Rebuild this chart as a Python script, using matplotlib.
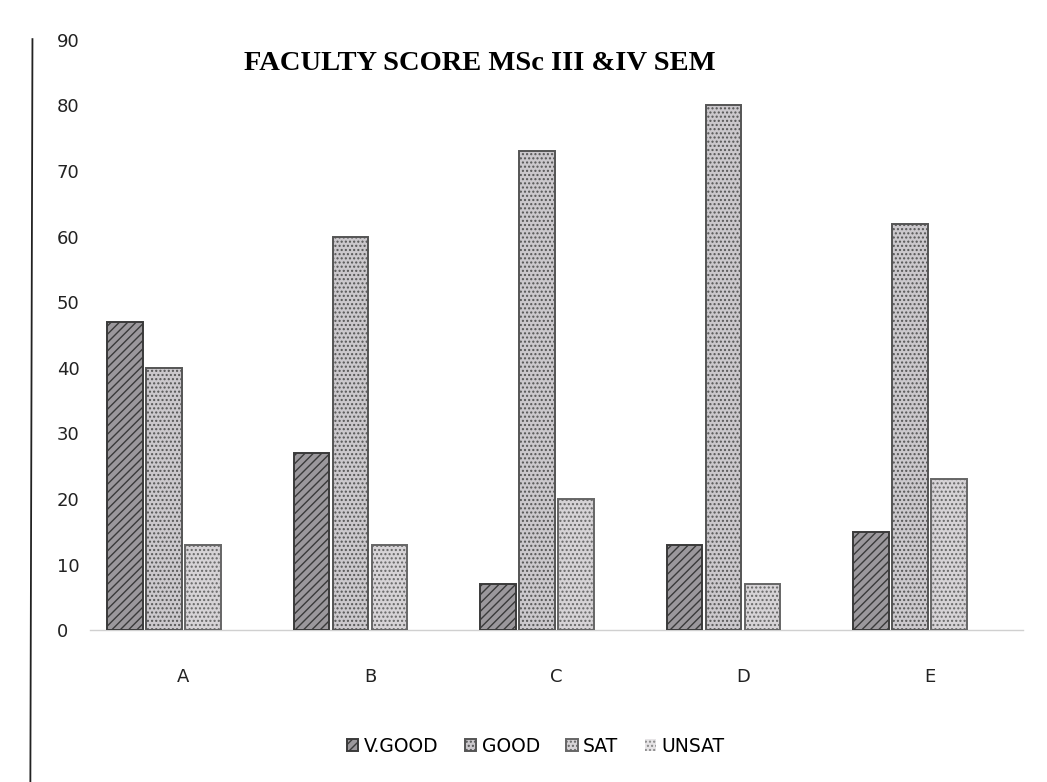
import matplotlib
matplotlib.use("Agg")
import matplotlib.pyplot as plt
import numpy as np
from matplotlib.lines import Line2D

categories = ["A", "B", "C", "D", "E"]
series_names = ["V.GOOD", "GOOD", "SAT", "UNSAT"]
v_good = [47, 27, 7, 13, 15]
good = [40, 60, 73, 80, 62]
sat = [13, 13, 20, 7, 23]
unsat = [0, 0, 0, 0, 0]
yticks = [0, 10, 20, 30, 40, 50, 60, 70, 80, 90]

series = [v_good, good, sat, unsat]
faces = ["#9b989c", "#cbc8cc", "#d6d3d6", "#e6e4e6"]
edges = ["#3a3a3a", "#555555", "#666666", "#888888"]
hatches = ["////", "....", "....", "...."]

plt.rcParams['hatch.color'] = '#8c8a8e'
fig = plt.figure(figsize=(10.47, 7.82), dpi=100)
ax = fig.add_axes([0.086, 0.194, 0.891, 0.755])

x = np.arange(len(categories))
w = 0.19
pitch = 0.209
for i, (vals, name) in enumerate(zip(series, series_names)):
    pos = x + (i - 1.5) * pitch
    bars = ax.bar(pos, vals, width=w, color=faces[i], edgecolor=edges[i], linewidth=1.4,
                  hatch=hatches[i], label=name, zorder=3)
    for b, v in zip(bars, vals):
        if v == 0:
            b.set_linewidth(0)

ax.set_xlim(-0.5, 4.5)
ax.set_ylim(0, 90)
ax.set_yticks(yticks)
ax.set_yticklabels([str(t) for t in yticks], fontsize=13, color="#222222", ha="left")
ax.tick_params(axis="y", length=0, pad=24)
ax.set_xticks(x)
ax.set_xticklabels(categories, fontsize=13, color="#222222")
ax.tick_params(axis="x", length=0, pad=27)
for s in ["top", "right", "left"]:
    ax.spines[s].set_visible(False)
ax.spines["bottom"].set_color("#d0d0d0")
ax.spines["bottom"].set_linewidth(1.0)

ax.set_title("FACULTY SCORE MSc III &IV SEM", fontsize=20.5, fontweight="bold",
             family="Liberation Serif", y=0.935, x=0.418)

ax.legend(loc="upper center", bbox_to_anchor=(0.478, -0.152), ncol=4, frameon=False,
          fontsize=13.5, handlelength=0.6, handleheight=0.6, handletextpad=0.3,
          columnspacing=1.4)

# scanned page edge on the left
fig.add_artist(Line2D([0.031, 0.029], [0.95, 0.0], color="#222222", lw=1.3,
                      transform=fig.transFigure))

fig.savefig("out.png", dpi=100, facecolor="white")
